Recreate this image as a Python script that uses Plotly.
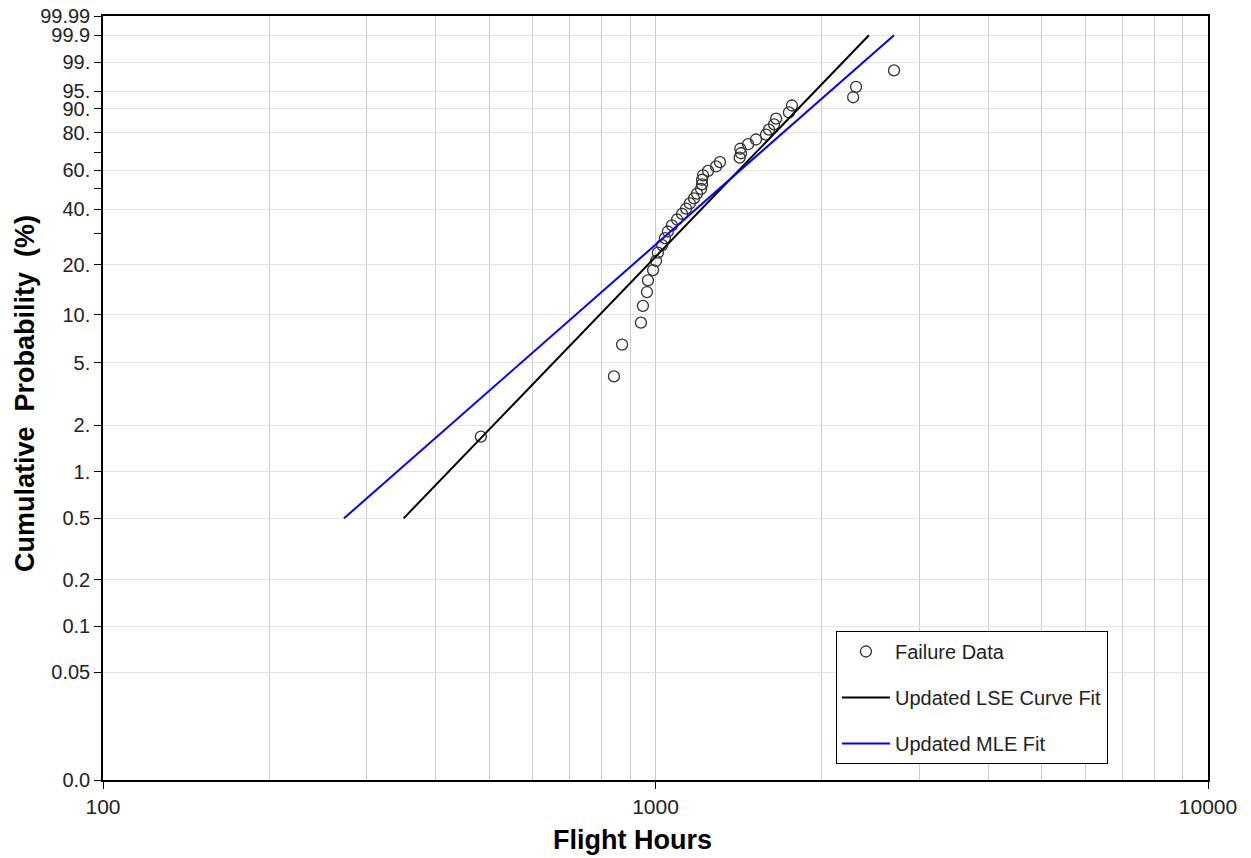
import numpy as np
import plotly.graph_objects as go

# ---- data ----
failure_hours = [483, 841, 870, 941, 949, 965, 969, 990, 1002, 1010, 1028, 1040, 1053,
                 1071, 1094, 1117, 1136, 1154, 1174, 1189, 1209, 1214, 1214, 1219, 1245,
                 1287, 1308, 1420, 1428, 1424, 1471, 1520, 1585, 1605, 1639, 1653, 1744,
                 1766, 2279, 2307, 2702]
failure_pct = [1.69, 4.11, 6.52, 8.94, 11.35, 13.77, 16.18, 18.60, 21.01, 23.43, 25.85,
               28.26, 30.68, 33.09, 35.51, 37.92, 40.34, 42.75, 45.17, 47.58, 50.00,
               52.42, 54.83, 57.25, 59.66, 62.08, 64.49, 66.91, 69.32, 71.74, 74.15,
               76.57, 78.99, 81.40, 83.82, 86.23, 88.65, 91.06, 93.48, 95.89, 98.31]

lse_hours = [350, 2434]
lse_pct = [0.5, 99.9]
mle_hours = [273, 2702]
mle_pct = [0.5, 99.9]

y_tick_pct = [99.99, 99.9, 99, 95, 90, 80, 60, 40, 20, 10, 5, 2, 1, 0.5, 0.2, 0.1, 0.05, 0.01]
y_tick_text = ["99.99", "99.9", "99.", "95.", "90.", "80.", "60.", "40.", "20.", "10.",
               "5.", "2.", "1.", "0.5", "0.2", "0.1", "0.05", "0.0"]
y_minor_pct = [70, 50, 30]
x_tick_vals = [100, 1000, 10000]
x_tick_text = ["100", "1000", "10000"]
x_minor_vals = [200, 300, 400, 500, 600, 700, 800, 900,
                2000, 3000, 4000, 5000, 6000, 7000, 8000, 9000]

x_title = "Flight Hours"
y_title = "Cumulative  Probability  (%)"


def wb(p):
    """Weibull probability-paper transform of percentages."""
    p = np.asarray(p, dtype=float) / 100.0
    return np.log(-np.log(1.0 - p))


FONT = "Liberation Sans, Arial, sans-serif"

fig = go.Figure()
fig.add_trace(go.Scatter(
    x=failure_hours, y=wb(failure_pct), mode="markers", name="Failure Data",
    legendgroup="a",
    marker=dict(symbol="circle-open", size=11, color="#333333", line=dict(width=1.3)),
))
fig.add_trace(go.Scatter(
    x=lse_hours, y=wb(lse_pct), mode="lines", name="Updated LSE Curve Fit",
    legendgroup="b",
    line=dict(color="black", width=2),
))
fig.add_trace(go.Scatter(
    x=mle_hours, y=wb(mle_pct), mode="lines", name="Updated MLE Fit",
    legendgroup="c",
    line=dict(color="#0000ff", width=2),
))

fig.update_layout(
    width=1251, height=858,
    margin=dict(l=103, r=43, t=16, b=78),
    paper_bgcolor="white", plot_bgcolor="white",
    font=dict(family=FONT, size=20, color="#222222"),
    showlegend=True,
    legend=dict(
        x=0.6633, y=0.195, xanchor="left", yanchor="top",
        bgcolor="white", bordercolor="black", borderwidth=1,
        font=dict(family=FONT, size=20, color="#222222"),
        tracegroupgap=17, itemwidth=48,
    ),
    xaxis=dict(
        type="log", range=[2, 4], automargin=False, ticklabeloverflow="allow",
        tickmode="array", tickvals=x_tick_vals, ticktext=x_tick_text,
        ticks="outside", ticklen=7, tickcolor="black",
        showgrid=True, gridcolor="#cccccc", gridwidth=1,
        showline=True, linecolor="black", linewidth=1.5, mirror=True,
        zeroline=False,
        minor=dict(tickmode="array", tickvals=x_minor_vals, ticks="",
                   showgrid=True, gridcolor="#cccccc", gridwidth=1),
        tickfont=dict(family=FONT, size=21, color="#222222"),
    ),
    yaxis=dict(
        range=[float(wb([0.01])[0]), float(wb([99.99])[0])], automargin=False,
        ticklabeloverflow="allow",
        tickmode="array", tickvals=wb(y_tick_pct), ticktext=y_tick_text,
        ticks="outside", ticklen=7, tickcolor="black",
        showgrid=True, gridcolor="#e3e3e3", gridwidth=1,
        showline=True, linecolor="black", linewidth=1.5, mirror=True,
        zeroline=False,
        minor=dict(tickmode="array", tickvals=wb(y_minor_pct), ticks="outside",
                   ticklen=7, tickcolor="black", showgrid=False),
        tickfont=dict(family=FONT, size=20, color="#222222"),
    ),
    annotations=[
        dict(text="<b>" + x_title + "</b>", xref="paper", yref="paper",
             x=0.4796, y=-0.0785, xanchor="center", yanchor="middle", showarrow=False,
             font=dict(family=FONT, size=27, color="black")),
        dict(text="<b>" + y_title + "</b>", xref="paper", yref="paper",
             x=-0.0706, y=0.5065, xanchor="center", yanchor="middle", showarrow=False,
             textangle=-90, font=dict(family=FONT, size=27, color="black")),
    ],
)

fig.write_html("out.html",
               config={"displayModeBar": False},
               post_script="document.body.style.margin='0px';"
                           "document.body.style.overflow='hidden';")
